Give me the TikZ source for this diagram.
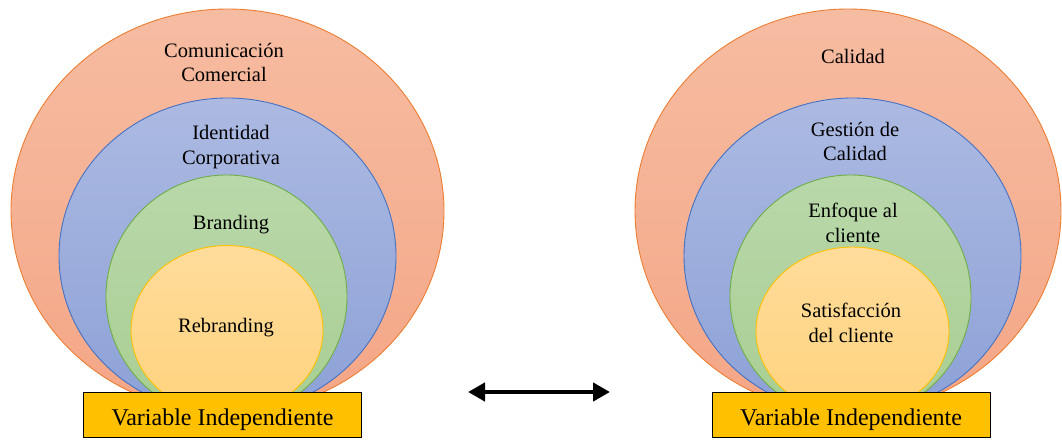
\documentclass[tikz,border=0pt]{standalone}
\usepackage{fontspec}
\setmainfont{Liberation Serif}
\usetikzlibrary{arrows.meta}

\definecolor{salmonTop}{RGB}{246,188,162}
\definecolor{salmonBot}{RGB}{244,166,134}
\definecolor{salmonLine}{RGB}{237,125,49}
\definecolor{blueTop}{RGB}{172,186,226}
\definecolor{blueBot}{RGB}{141,161,215}
\definecolor{blueLine}{RGB}{68,114,196}
\definecolor{greenTop}{RGB}{185,216,170}
\definecolor{greenBot}{RGB}{168,206,146}
\definecolor{greenLine}{RGB}{112,173,71}
\definecolor{yellowTop}{RGB}{255,220,155}
\definecolor{yellowBot}{RGB}{255,211,126}
\definecolor{yellowLine}{RGB}{255,192,0}
\definecolor{boxgold}{RGB}{255,192,0}

\begin{document}
\begin{tikzpicture}[x=1pt,y=-1pt,
  ring/.style n args={3}{shade, top color=#1, bottom color=#2, draw=#3, line width=0.9pt},
  ringtext/.style={align=center, inner sep=0pt, font=\fontsize{20.5}{24.5}\selectfont},
  varbox/.style={draw=black, fill=boxgold, line width=1.1pt, minimum width=278pt,
    minimum height=45pt, anchor=north west, inner sep=0pt,
    text height=25pt, text depth=5pt,
    font=\fontsize{24}{28}\selectfont},
  bothways/.style={line width=4.5pt, {Triangle[length=17pt,width=18pt]}-{Triangle[length=17pt,width=18pt]}}
]
\useasboundingbox (0,0) rectangle (1062,439);

% left set of nested ellipses
\path[ring={salmonTop}{salmonBot}{salmonLine}] (227.5,211) ellipse [x radius=216.5, y radius=202];
\path[ring={blueTop}{blueBot}{blueLine}] (227.5,256) ellipse [x radius=168.5, y radius=158];
\path[ring={greenTop}{greenBot}{greenLine}] (226.5,296.5) ellipse [x radius=120.5, y radius=121.5];
\path[ring={yellowTop}{yellowBot}{yellowLine}] (227,330) ellipse [x radius=96, y radius=84.5];

% right set of nested ellipses
\path[ring={salmonTop}{salmonBot}{salmonLine}] (848,211) ellipse [x radius=213, y radius=202];
\path[ring={blueTop}{blueBot}{blueLine}] (852.5,256) ellipse [x radius=168.5, y radius=158];
\path[ring={greenTop}{greenBot}{greenLine}] (850.5,296.5) ellipse [x radius=120.5, y radius=121.5];
\path[ring={yellowTop}{yellowBot}{yellowLine}] (852.5,331) ellipse [x radius=96.5, y radius=84];

% labels, left
\node[ringtext] (comcom) at (224,62.5) {Comunicación\\Comercial};
\node[ringtext] (idcorp) at (231,147) {Identidad\\Corporativa};
\node[ringtext] (brand) at (231,225) {Branding};
\node[ringtext] (rebrand) at (226,327.5) {Rebranding};

% labels, right
\node[ringtext] (calidad) at (853,56.5) {Calidad};
\node[ringtext] (gestion) at (855,141.5) {Gestión de\\Calidad};
\node[ringtext] (enfoque) at (853,223) {Enfoque al\\cliente};
\node[ringtext] (satisf) at (851,323) {Satisfacción\\del cliente};

% variable boxes
\node[varbox] (varL) at (83,392) {Variable Independiente};
\node[varbox] (varR) at (711.5,392) {Variable Independiente};

% two-headed arrow between the sets
\coordinate (arrL) at (468,392);
\coordinate (arrR) at (610,392);
\draw[bothways] (arrL) -- (arrR);
\end{tikzpicture}
\end{document}
